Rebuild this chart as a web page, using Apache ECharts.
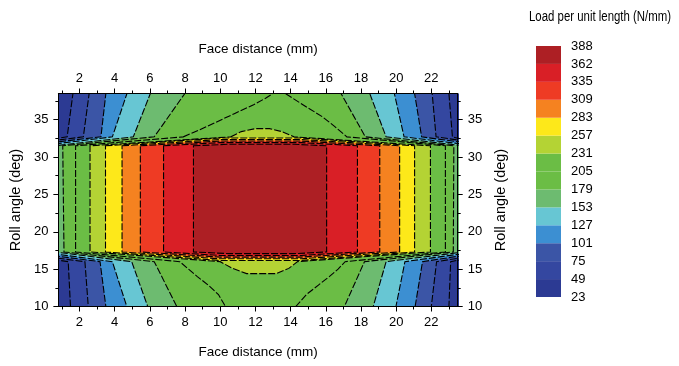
<!DOCTYPE html>
<html><head><meta charset="utf-8">
<script src="https://cdn.jsdelivr.net/npm/echarts@6/dist/echarts.min.js"></script>
<style>html,body{margin:0;padding:0;background:#fff}#c{width:679px;height:366px}</style>
</head><body><div id="c"></div>
<script>
// coordinates just beyond the plotted range (used to close the filled regions, clipped away)
const XL = -1, XR = 25, YT = 40, YB = 8;

// legend level values (N/mm)
const legendLevels = [23, 49, 75, 101, 127, 153, 179, 205, 231, 257, 283, 309, 335, 362, 388];
// axis tick values
const xTickLabels = [2, 4, 6, 8, 10, 12, 14, 16, 18, 20, 22];
const xMinorTicks = [1, 3, 5, 7, 9, 11, 13, 15, 17, 19, 21, 23];
const yTickLabels = [10, 15, 20, 25, 30, 35];
const yMinorTicks = [12.5, 17.5, 22.5, 27.5, 32.5, 37.5];

// contour regions {load >= level}, [face distance (mm), roll angle (deg)]
const iso23 = [[XL, YB], [XR, YB], [XR, YT], [XL, YT]];
const iso49 = [[1.63, YT], [1.63, 38.5], [1.3, 32.7], [0.8, 32.52], [XL, 32.52], [XL, 16.2], [0.8, 16.2], [1.36, 16.0], [1.49, 10], [1.49, YB], [23.0, YB], [23.0, 10], [23.1, 16.0], [23.5, 16.2], [XR, 16.2], [XR, 32.52], [23.5, 32.52], [23.2, 32.7], [23.0, 38.5], [23.0, YT]];
const iso75 = [[2.55, YT], [2.55, 38.5], [2.22, 32.7], [0.8, 32.28], [XL, 32.28], [XL, 16.45], [0.8, 16.45], [2.31, 16.0], [2.5, 10], [2.5, YB], [22.0, YB], [22.0, 10], [22.3, 16.0], [23.5, 16.45], [XR, 16.45], [XR, 32.28], [23.5, 32.28], [22.27, 32.7], [22.05, 38.5], [22.05, YT]];
const iso101 = [[3.5, YT], [3.5, 38.5], [3.22, 32.7], [0.8, 32.04], [XL, 32.04], [XL, 16.72], [0.8, 16.72], [3.17, 16.0], [3.5, 10], [3.5, YB], [21.08, YB], [21.08, 10], [21.5, 16.0], [23.5, 16.72], [XR, 16.72], [XR, 32.04], [23.5, 32.04], [21.45, 32.7], [21.05, 38.5], [21.05, YT]];
const iso127 = [[4.7, YT], [4.7, 38.5], [3.87, 32.7], [0.8, 31.8], [XL, 31.8], [XL, 16.98], [0.8, 16.98], [3.87, 16.0], [4.69, 10], [4.69, YB], [19.99, YB], [19.99, 10], [20.5, 16.0], [23.5, 16.98], [XR, 16.98], [XR, 31.8], [23.5, 31.8], [20.45, 32.7], [19.9, 38.5], [19.9, YT]];
const iso153 = [[6.03, YT], [6.03, 38.5], [5.06, 32.7], [0.8, 31.56], [XL, 31.56], [XL, 17.24], [0.8, 17.24], [4.97, 16.0], [5.88, 10], [5.88, YB], [18.7, YB], [18.7, 10], [19.43, 16.0], [23.5, 17.2], [XR, 17.2], [XR, 31.6], [23.5, 31.6], [19.43, 32.7], [18.5, 38.5], [18.5, YT]];
const iso179 = [[7.99, YT], [7.99, 38.5], [6.25, 32.7], [1.05, 31.5], [1.12, 17.3], [6.25, 16.0], [7.53, 10], [7.53, YB], [17.06, YB], [17.06, 10], [18.2, 16.0], [23.25, 17.3], [23.28, 31.5], [18.25, 32.7], [16.87, 38.5], [16.87, YT]];
const iso205 = [[7.9, 32.7], [8.8, 33.6], [9.8, 34.7], [10.8, 35.8], [11.9, 37.0], [12.6, 37.9], [13.0, 38.5], [13.0, YT], [13.7, YT], [13.7, 38.5], [14.7, 37.0], [15.8, 35.4], [16.5, 34.1], [17.2, 32.7], [22.8, 31.5], [22.8, 17.3], [17.1, 16.0], [16.7, 15.0], [16.2, 14.0], [15.6, 12.9], [14.9, 11.6], [14.3, 10], [14.3, YB], [10.3, YB], [10.3, 10], [9.9, 11.6], [9.3, 12.9], [8.7, 14.0], [8.2, 15.0], [7.7, 16.0], [1.78, 17.3], [1.78, 31.5]];
const iso231 = [[10.6, 32.7], [11.2, 33.4], [12.0, 33.8], [12.8, 33.8], [13.5, 33.4], [14.2, 32.7], [21.95, 31.5], [21.95, 17.3], [14.4, 16.0], [13.9, 15.1], [13.2, 14.4], [11.5, 14.4], [10.7, 15.1], [10.0, 16.0], [2.6, 17.3], [2.6, 31.5]];
const iso257 = [[3.48, 31.5], [10.0, 32.55], [14.6, 32.55], [21.05, 31.5], [21.05, 17.3], [14.6, 16.16], [10.0, 16.16], [3.48, 17.3]];
const iso283 = [[4.42, 31.5], [10.0, 32.35], [14.6, 32.35], [20.2, 31.5], [20.2, 17.3], [14.6, 16.38], [10.0, 16.38], [4.42, 17.3]];
const iso309 = [[5.46, 31.5], [10.0, 32.14], [14.6, 32.14], [19.07, 31.5], [19.07, 17.3], [14.6, 16.61], [10.0, 16.61], [5.46, 17.3]];
const iso335 = [[6.78, 31.5], [10.0, 31.93], [14.6, 31.93], [17.8, 31.5], [17.8, 17.3], [14.6, 16.83], [10.0, 16.83], [6.78, 17.3]];
const iso362 = [[8.48, 31.5], [10.5, 31.71], [14.2, 31.71], [16.05, 31.5], [16.05, 17.3], [14.2, 17.07], [10.5, 17.07], [8.48, 17.3]];

const isoSets = [iso23, iso49, iso75, iso101, iso127, iso153, iso179, iso205, iso231, iso257, iso283, iso309, iso335, iso362];

// styles
const bandColors = ['#2c3a93', '#3447a0', '#3b55a6', '#3c8fd2', '#67c6d3', '#6dbb70', '#6bbd45', '#6bbd45', '#b4d334', '#fde81a', '#f58220', '#ee3b24', '#d91f26', '#ad1f24'];
const sans = "'Liberation Sans',Arial,sans-serif";

const chart = echarts.init(document.getElementById('c'), null, {renderer: 'canvas'});

function mainX(pos, name, gap) {
  return {
    gridIndex: 0, type: 'value', min: 0.8, max: 23.5, position: pos, z: 10,
    name: name, nameLocation: 'middle', nameGap: gap,
    nameTextStyle: {color: '#000', fontSize: 13.5, fontFamily: sans},
    axisLine: {onZero: false, lineStyle: {color: '#000', width: 1}},
    axisTick: {customValues: xTickLabels, length: 5, lineStyle: {color: '#000'}},
    axisLabel: {customValues: xTickLabels, margin: 9, color: '#000', fontSize: 13, fontFamily: sans},
    splitLine: {show: false}
  };
}
function minorX(pos) {
  return {
    gridIndex: 0, type: 'value', min: 0.8, max: 23.5, position: pos, z: 10,
    axisLine: {show: false, onZero: false},
    axisTick: {customValues: xMinorTicks, length: 3, lineStyle: {color: '#000'}},
    axisLabel: {show: false}, splitLine: {show: false}
  };
}
function mainY(pos, gap) {
  return {
    gridIndex: 0, type: 'value', min: 10, max: 38.5, position: pos, z: 10,
    name: 'Roll angle (deg)', nameLocation: 'middle', nameGap: gap, nameRotate: 90,
    nameTextStyle: {color: '#000', fontSize: 14.5, fontFamily: sans},
    axisLine: {onZero: false, lineStyle: {color: '#000', width: 1}},
    axisTick: {customValues: yTickLabels, length: 5, lineStyle: {color: '#000'}},
    axisLabel: {customValues: yTickLabels, margin: 10, color: '#000', fontSize: 13, fontFamily: sans},
    splitLine: {show: false}
  };
}
function minorY(pos) {
  return {
    gridIndex: 0, type: 'value', min: 10, max: 38.5, position: pos, z: 10,
    axisLine: {show: false, onZero: false},
    axisTick: {customValues: yMinorTicks, length: 3, lineStyle: {color: '#000'}},
    axisLabel: {show: false}, splitLine: {show: false}
  };
}

const option = {
  animation: false,
  backgroundColor: '#fff',
  graphic: [{
    type: 'text', x: 529, y: 10, scaleX: 0.815,
    style: {text: 'Load per unit length (N/mm)', font: '14px "Liberation Sans", Arial, sans-serif', fill: '#000', align: 'left', verticalAlign: 'top'}
  }],
  grid: [
    {left: 44, top: 93.5, width: 413.7, height: 213, containLabel: false},
    {left: 536, top: 46, width: 25, height: 251, containLabel: false}
  ],
  xAxis: [
    mainX('bottom', 'Face distance (mm)', 39),
    mainX('top', 'Face distance (mm)', 37),
    minorX('bottom'),
    minorX('top'),
    {gridIndex: 1, type: 'value', min: 0, max: 1, show: false}
  ],
  yAxis: [
    mainY('left', 34),
    mainY('right', 22),
    minorY('left'),
    minorY('right'),
    {
      gridIndex: 1, type: 'value', min: 0, max: 14, interval: 1, position: 'right',
      axisLine: {show: false}, axisTick: {show: false}, splitLine: {show: false},
      axisLabel: {margin: 10, color: '#000', fontSize: 13, fontFamily: sans,
        formatter: v => String(legendLevels[Math.round(v)])}
    }
  ],
  series: [
    {
      type: 'custom', xAxisIndex: 0, yAxisIndex: 0, clip: true, silent: true, z: 1,
      data: isoSets.map((s, i) => [i]),
      renderItem: (params, api) => {
        const i = params.dataIndex;
        return {
          type: 'polygon',
          shape: {points: isoSets[i].map(p => api.coord(p))},
          style: {fill: bandColors[i], stroke: null}
        };
      }
    },
    {
      type: 'custom', xAxisIndex: 0, yAxisIndex: 0, clip: true, silent: true, z: 3,
      data: isoSets.map((s, i) => [i]),
      renderItem: (params, api) => {
        const i = params.dataIndex;
        if (i === 0) return null;
        return {
          type: 'polygon',
          shape: {points: isoSets[i].map(p => api.coord(p))},
          style: {fill: null, stroke: '#000', lineWidth: 1.1, lineDash: [7, 2]}
        };
      }
    },
    {
      type: 'custom', xAxisIndex: 4, yAxisIndex: 4, silent: true,
      data: bandColors.map((c, i) => [0, i]),
      renderItem: (params, api) => {
        const i = params.dataIndex;
        const p0 = api.coord([0, i]);
        const p1 = api.coord([1, i + 1]);
        return {
          type: 'rect',
          shape: {x: p0[0], y: p1[1], width: p1[0] - p0[0], height: p0[1] - p1[1]},
          style: {fill: bandColors[i]}
        };
      }
    }
  ]
};
chart.setOption(option);
</script>
</body></html>
